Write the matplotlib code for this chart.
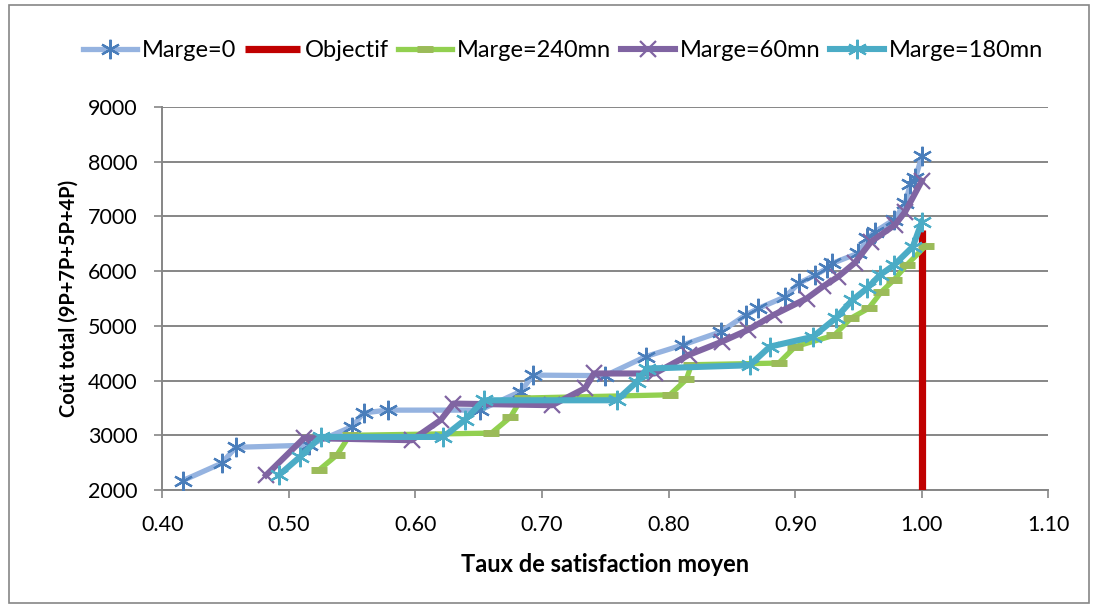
import matplotlib
matplotlib.use("Agg")
import matplotlib.pyplot as plt
from matplotlib.patches import Rectangle
from matplotlib.ticker import FormatStrFormatter

# ---- data ----
x_m0 = [0.416, 0.447, 0.458, 0.516, 0.550, 0.559, 0.578, 0.651, 0.683, 0.693, 0.750, 0.782,
        0.811, 0.841, 0.861, 0.871, 0.892, 0.903, 0.916, 0.925, 0.929, 0.950, 0.957, 0.963,
        0.978, 0.987, 0.991, 0.995, 1.000]
y_m0 = [2170, 2490, 2780, 2820, 3160, 3410, 3460, 3460, 3800, 4100, 4090, 4440,
        4650, 4890, 5200, 5320, 5530, 5780, 5930, 6050, 6140, 6330, 6600, 6720,
        6940, 7240, 7600, 7700, 8100]

x_obj = [1.0, 1.0]
y_obj = [2000, 6750]

x_m240 = [0.524, 0.538, 0.548, 0.660, 0.675, 0.684, 0.801, 0.814, 0.818, 0.887, 0.900, 0.931,
          0.944, 0.958, 0.968, 0.978, 0.988, 1.003]
y_m240 = [2370, 2640, 3000, 3040, 3330, 3680, 3740, 4020, 4290, 4320, 4620, 4830,
          5140, 5320, 5620, 5840, 6110, 6460]

x_m60 = [0.482, 0.512, 0.597, 0.620, 0.630, 0.708, 0.734, 0.741, 0.789, 0.816, 0.842, 0.863,
         0.883, 0.909, 0.922, 0.934, 0.947, 0.960, 0.979, 0.987, 1.000]
y_m60 = [2270, 2950, 2910, 3280, 3580, 3550, 3860, 4130, 4130, 4470, 4710, 4930,
         5200, 5500, 5720, 5900, 6150, 6540, 6850, 7090, 7650]

x_m180 = [0.492, 0.509, 0.525, 0.622, 0.639, 0.654, 0.759, 0.775, 0.783, 0.864, 0.880, 0.914,
          0.932, 0.945, 0.957, 0.967, 0.978, 0.993, 1.000]
y_m180 = [2270, 2610, 2970, 2970, 3280, 3640, 3640, 3980, 4220, 4280, 4620, 4800,
          5140, 5470, 5690, 5930, 6110, 6450, 6900]

labels = ["Marge=0", "Objectif", "Marge=240mn", "Marge=60mn", "Marge=180mn"]
x_ticks = [0.40, 0.50, 0.60, 0.70, 0.80, 0.90, 1.00, 1.10]
y_ticks = [2000, 3000, 4000, 5000, 6000, 7000, 8000, 9000]

plt.rcParams['font.family'] = ['Lato', 'DejaVu Sans']

fig = plt.figure(figsize=(10.95, 6.06), dpi=100)
ax = fig.add_axes([0.1482, 0.1914, 0.9574 - 0.1482, 0.8234 - 0.1914])

ast = (6, 2, 0)
ax.plot(x_m0, y_m0, color="#95B3E0", lw=3.8, marker=ast, ms=14, mec="#4A7EBB",
        mew=1.6, label=labels[0], zorder=3)
ax.plot(x_obj, y_obj, color="#C00000", lw=5.2, solid_capstyle="butt", label=labels[1], zorder=4)
ax.plot(x_m240, y_m240, color="#92D050", lw=3.8, marker="_", ms=11, mec="#9BBB59",
        mew=5, label=labels[2], zorder=5)
ax.plot(x_m60, y_m60, color="#8064A2", lw=4.4, marker="x", ms=12, mec="#8064A2",
        mew=1.6, label=labels[3], zorder=6)
ax.plot(x_m180, y_m180, color="#4BACC6", lw=4.4, marker=ast, ms=14, mec="#4BACC6",
        mew=1.6, label=labels[4], zorder=7)

ax.set_xlim(0.40, 1.10)
ax.set_ylim(2000, 9000)
ax.set_xticks(x_ticks)
ax.set_yticks(y_ticks)
ax.xaxis.set_major_formatter(FormatStrFormatter("%.2f"))
ax.grid(axis="y", color="#868686", lw=1.4)
ax.set_axisbelow(True)
for s in ["top", "right"]:
    ax.spines[s].set_visible(False)
for s in ["left", "bottom"]:
    ax.spines[s].set_color("#868686")
    ax.spines[s].set_linewidth(1.4)
ax.tick_params(axis="both", colors="#868686", labelcolor="black", labelsize=15.5,
               length=5.8, width=1.2, direction="out")
ax.tick_params(axis="y", pad=12)
ax.tick_params(axis="x", pad=12)
ax.set_xlabel("Taux de satisfaction moyen", fontsize=17, fontweight="bold", labelpad=13)
ax.set_ylabel("Coût total (9P+7P+5P+4P)", fontsize=14.5, fontweight="bold", labelpad=7)

fig.legend(loc="center", bbox_to_anchor=(0.514, 0.917), ncol=5, frameon=False,
           fontsize=17, handlelength=2.3, handletextpad=0.2, columnspacing=0.4)

fig.patches.append(Rectangle((9 / 1095, 3 / 606), 1080 / 1095, 598 / 606, transform=fig.transFigure,
                             fill=False, edgecolor="#868686", lw=1.2))

fig.savefig("out.png", dpi=100)
